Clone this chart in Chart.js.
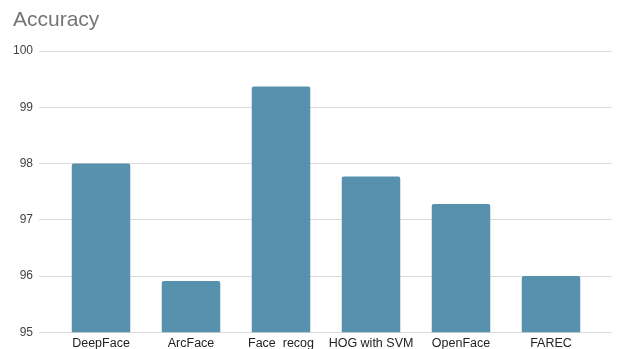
<!DOCTYPE html>
<html>
<head>
<meta charset="utf-8">
<script src="https://cdn.jsdelivr.net/npm/chart.js@4/dist/chart.umd.min.js"></script>
<style>
  html, body { margin: 0; padding: 0; background: #ffffff; }
  #wrap { width: 617px; height: 349px; }
</style>
</head>
<body>
<div id="wrap"><canvas id="chart" width="617" height="349"></canvas></div>
<script>
// Face recognition methods and their accuracy (%)
const categories = ['DeepFace', 'ArcFace', 'Face  recog', 'HOG with SVM', 'OpenFace', 'FAREC'];
const accuracy = [98.0, 95.91, 99.37, 97.77, 97.28, 96.0];
const yTicks = [95, 96, 97, 98, 99, 100];

const FONT = "'Liberation Sans', Arial, sans-serif";
const GRID = '#dadada';

new Chart(document.getElementById('chart'), {
  type: 'bar',
  data: {
    labels: categories,
    datasets: [{
      label: 'Accuracy',
      data: accuracy,
      backgroundColor: '#5891ad',
      borderRadius: { topLeft: 2, topRight: 2 },
      borderSkipped: 'bottom',
      categoryPercentage: 1.0,
      barPercentage: 0.65
    }]
  },
  options: {
    responsive: false,
    animation: false,
    layout: { padding: { left: 13, right: 5, top: 0, bottom: -5 } },
    plugins: {
      legend: { display: false },
      tooltip: { enabled: false },
      title: {
        display: true,
        text: 'Accuracy',
        align: 'start',
        color: '#757575',
        font: { family: FONT, size: 21, weight: 'normal', lineHeight: 1.15 },
        padding: { top: 8, bottom: 19 }
      }
    },
    scales: {
      x: {
        grid: { display: false, drawTicks: false },
        border: { display: false },
        ticks: {
          color: '#222222',
          font: { family: FONT, size: 12.5, lineHeight: 1.1 },
          padding: 4,
          maxRotation: 0,
          autoSkip: false
        }
      },
      y: {
        min: 95,
        max: 100,
        afterBuildTicks: (axis) => { axis.ticks = yTicks.map(v => ({ value: v })); },
        // keep the plot edge where it was while the title sits further right
        afterFit: (axis) => { axis.width -= 6; },
        grid: { color: GRID, lineWidth: 1, drawTicks: true, tickLength: 17, tickColor: GRID },
        border: { display: false },
        ticks: {
          color: '#444444',
          font: { family: FONT, size: 12 },
          padding: 6
        }
      },
      yRight: {
        position: 'right',
        min: 95,
        max: 100,
        afterBuildTicks: (axis) => { axis.ticks = yTicks.map(v => ({ value: v })); },
        grid: { color: GRID, lineWidth: 1, drawOnChartArea: false, drawTicks: true, tickLength: 16, tickColor: GRID },
        border: { display: false },
        ticks: { display: false }
      }
    }
  }
});
</script>
</body>
</html>
